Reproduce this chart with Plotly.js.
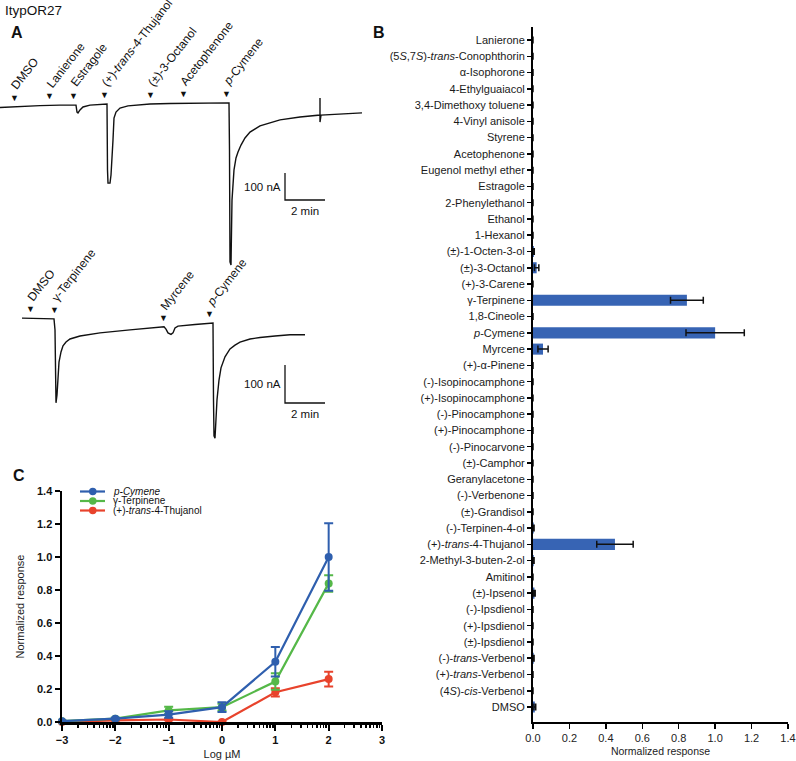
<!DOCTYPE html>
<html><head><meta charset="utf-8">
<script src="https://cdn.plot.ly/plotly-3.0.1.min.js"></script>
<style>body{margin:0;background:#fff}#chart{width:796px;height:761px}</style>
</head><body><div id="chart"></div>
<script>
// ---------- Panel A: two-electrode voltage clamp traces (time in min, current in nA) ----------
const topTime = [0,1.0,2.0,3.0,3.75,3.8,3.85,3.9,4.0,4.15,4.5,5.2,5.35,5.375,5.4,5.5,5.55,5.65,5.7,5.8,6.0,6.4,7.0,7.5,8.5,10.0,11.45,11.475,11.5,11.55,11.6,11.7,11.8,11.9,12.05,12.25,12.5,13.0,13.5,14.0,15.0,15.9,16.0,16.0,16.0,16.05,16.5,17.25,18.1];
const topCurrent = [-13,-9,-6,-4,-2,-4,-30,-33,-22,-11,-4,0,0,-244,-293,-293,-263,-133,-52,-30,-15,-7,-2,0,2,4,4,-170,-585,-596,-356,-244,-200,-178,-152,-126,-104,-81,-69,-59,-48,-43,-41,22,-67,-41,-39,-37,-33];
const bottomTime = [1.1,2.0,2.7,2.75,2.775,2.8,2.85,2.9,2.95,3.05,3.15,3.3,3.5,4.0,5.0,6.5,8.0,8.2,8.3,8.4,8.55,8.65,8.75,8.9,9.75,10.6,10.65,10.675,10.7,10.75,10.8,10.85,10.95,11.05,11.25,11.5,11.75,12.0,12.5,13.0,13.75,14.5,15.25];
const bottomCurrent = [5,4,3,-26,-210,-218,-197,-145,-111,-84,-68,-58,-50,-42,-34,-26,-20,-18,-24,-34,-38,-34,-21,-16,-12,-8,-8,-210,-305,-311,-263,-210,-158,-126,-97,-76,-66,-58,-50,-46,-42,-39,-39];
const topStimuli = ['DMSO','Lanierone','Estragole','(+)-<i>trans</i>-4-Thujanol','(±)-3-Octanol','Acetophenone','<i>p</i>-Cymene'];
const topStimTimes = [0.7,2.45,3.65,5.2,7.5,9.15,11.3];
const bottomStimuli = ['DMSO','γ-Terpinene','Myrcene','<i>p</i>-Cymene'];
const bottomStimTimes = [1.5,2.7,8.15,10.45];
const scaleCurrent = 100; // nA
const scaleTime = 2;      // min

// ---------- Panel B: normalized responses ----------
const compounds = ['Lanierone','(5<i>S</i>,7<i>S</i>)-<i>trans</i>-Conophthorin','α-Isophorone','4-Ethylguaiacol','3,4-Dimethoxy toluene','4-Vinyl anisole','Styrene','Acetophenone','Eugenol methyl ether','Estragole','2-Phenylethanol','Ethanol','1-Hexanol','(±)-1-Octen-3-ol','(±)-3-Octanol','(+)-3-Carene','γ-Terpinene','1,8-Cineole','<i>p</i>-Cymene','Myrcene','(+)-α-Pinene','(-)-Isopinocamphone','(+)-Isopinocamphone','(-)-Pinocamphone','(+)-Pinocamphone','(-)-Pinocarvone','(±)-Camphor','Geranylacetone','(-)-Verbenone','(±)-Grandisol','(-)-Terpinen-4-ol','(+)-<i>trans</i>-4-Thujanol','2-Methyl-3-buten-2-ol','Amitinol','(±)-Ipsenol','(-)-Ipsdienol','(+)-Ipsdienol','(±)-Ipsdienol','(-)-<i>trans</i>-Verbenol','(+)-<i>trans</i>-Verbenol','(4<i>S</i>)-<i>cis</i>-Verbenol','DMSO'];
const meanResponse = [0,0,0,0,0,0,0,0,0,0,0,0,0,0.005,0.02,0,0.845,0,1.0,0.055,0,0,0,0,0,0,0,0,0,0,0.004,0.45,0.004,0,0.008,0,0,0,0.004,0,0,0.01];
const semResponse  = [0,0,0,0,0,0,0,0,0,0,0,0,0,0.002,0.012,0,0.09,0,0.16,0.028,0,0,0,0,0,0,0,0,0,0,0.002,0.10,0.002,0,0.004,0,0,0,0.002,0,0,0.005];

// ---------- Panel C: dose response ----------
const logConc = [-3,-2,-1,0,1,2];
const seriesNames = ['<i>p-Cymene</i>','γ-Terpinene','(+)-<i>trans</i>-4-Thujanol'];
const pCymeneMean = [0.005,0.02,0.045,0.09,0.365,1.0];
const pCymeneSem  = [0.004,0.005,0.02,0.03,0.09,0.205];
const gTerpMean   = [0.005,0.02,0.07,0.09,0.245,0.84];
const gTerpSem    = [0.003,0.005,0.022,0.02,0.05,0.05];
const thujMean    = [0.0,0.01,0.015,0.0,0.18,0.26];
const thujSem     = [0.002,0.003,0.005,0.002,0.025,0.045];
const seriesColors = ['#2f5fae','#55b848','#e8432c'];

// ---------- helpers ----------
const W = 796, H = 761;
const px = v => v / W;
const py = v => 1 - v / H;
const FONT = "Arial, 'Liberation Sans', sans-serif";
function interp(ts, vs, t) {
  for (let i = 1; i < ts.length; i++) {
    if (ts[i] >= t) {
      const f = (t - ts[i-1]) / ((ts[i] - ts[i-1]) || 1);
      return vs[i-1] + f * (vs[i] - vs[i-1]);
    }
  }
  return vs[vs.length-1];
}

const traces = [];
const annotations = [];
const shapes = [];

// Panel A traces
traces.push({x: topTime, y: topCurrent, xaxis:'x', yaxis:'y', mode:'lines', line:{color:'#111', width:1.4}, hoverinfo:'skip'});
traces.push({x: bottomTime, y: bottomCurrent, xaxis:'x2', yaxis:'y2', mode:'lines', line:{color:'#111', width:1.4}, hoverinfo:'skip'});

// scale bars
const sbT = 14.25;
const sbTopI = -355.6, sbBotI = -218.4;
[[sbTopI,'x','y'],[sbBotI,'x2','y2']].forEach(([base, xa, ya]) => {
  traces.push({x:[sbT, sbT, sbT + scaleTime], y:[base + scaleCurrent, base, base], xaxis:xa, yaxis:ya, mode:'lines', line:{color:'#111', width:1.3}, hoverinfo:'skip'});
  annotations.push({x:sbT, y:base + scaleCurrent/2, xref:xa, yref:ya, text: scaleCurrent + ' nA', showarrow:false, xanchor:'right', yanchor:'middle', xshift:-2, font:{family:FONT, size:11.5, color:'#111'}});
  annotations.push({x:sbT + scaleTime/2, y:base, xref:xa, yref:ya, text: scaleTime + ' min', showarrow:false, xanchor:'center', yanchor:'top', yshift:-3, font:{family:FONT, size:11.5, color:'#111'}});
});

// stimulus arrows and labels
function addStim(names, times, ts, vs, xa, ya) {
  names.forEach((nm, i) => {
    const t = times[i];
    const yv = interp(ts, vs, t);
    annotations.push({x:t, y:yv, xref:xa, yref:ya, text:'▼', showarrow:false, xanchor:'center', yanchor:'middle', yshift:9, font:{family:FONT, size:9, color:'#111'}});
    annotations.push({x:t, y:yv, xref:xa, yref:ya, text:nm, showarrow:false, textangle:-52, xanchor:'left', yanchor:'bottom', xshift:-8, yshift:12, font:{family:FONT, size:12, color:'#111'}});
  });
}
addStim(topStimuli, topStimTimes, topTime, topCurrent, 'x', 'y');
addStim(bottomStimuli, bottomStimTimes, bottomTime, bottomCurrent, 'x2', 'y2');

// Panel B bars
traces.push({type:'bar', orientation:'h', x: meanResponse, y: compounds, xaxis:'x3', yaxis:'y3', width:0.68,
  marker:{color:'#3764b4', line:{width:0}},
  error_x:{type:'data', array: semResponse, color:'#111', thickness:1.5, width:3.5}, hoverinfo:'skip'});

// Panel C lines (drawn red, green, blue so blue is on top)
const cMeans = [pCymeneMean, gTerpMean, thujMean];
const cSems = [pCymeneSem, gTerpSem, thujSem];
[2,1,0].forEach(k => {
  traces.push({x: logConc, y: cMeans[k], xaxis:'x4', yaxis:'y4', mode:'lines+markers', cliponaxis:false,
    line:{color:seriesColors[k], width:2.2}, marker:{color:seriesColors[k], size:8},
    error_y:{type:'data', array:cSems[k], color:seriesColors[k], thickness:2, width:4.5}, hoverinfo:'skip'});
});

// manual legend for panel C
const legY = [491.5, 501, 510.5];
seriesNames.forEach((nm, k) => {
  shapes.push({type:'line', xref:'paper', yref:'paper', x0:px(80), x1:px(105), y0:py(legY[k]), y1:py(legY[k]), line:{color:seriesColors[k], width:2.2}});
  shapes.push({type:'circle', xref:'paper', yref:'paper', x0:px(89), x1:px(96.5), y0:py(legY[k]+3.75), y1:py(legY[k]-3.75), fillcolor:seriesColors[k], line:{width:0}});
  annotations.push({x:px(112), y:py(legY[k]), xref:'paper', yref:'paper', text:nm, showarrow:false, xanchor:'left', yanchor:'middle', borderpad:0, font:{family:FONT, size:10, color:'#111'}});
});

// minor ticks for log concentration axis
const minorTicks = [];
for (let d = -3; d < 3; d++) for (let m = 2; m <= 9; m++) minorTicks.push(d + Math.log10(m));

// Panel labels
[['ItypOR27', 3, 11, 13.5, 'normal', 'left'], ['A', 17, 32, 16, 'bold', 'center'], ['B', 379, 32, 16, 'bold', 'center'], ['C', 19, 476, 16, 'bold', 'center']].forEach(([t, x, y, s, w, a]) => {
  annotations.push({x:px(x), y:py(y), xref:'paper', yref:'paper', text:t, showarrow:false, xanchor:a, yanchor:'middle', font:{family:FONT, size:s, weight:w, color:'#111'}});
});

const hiddenAx = {showgrid:false, zeroline:false, showticklabels:false, ticks:'', showline:false, fixedrange:true};
const layout = {
  width: W, height: H, margin:{l:0, r:0, t:0, b:0},
  paper_bgcolor:'#fff', plot_bgcolor:'rgba(0,0,0,0)', showlegend:false,
  font:{family:FONT, color:'#111'},
  xaxis: Object.assign({domain:[0, px(370)], range:[0, 18.5], anchor:'y'}, hiddenAx),
  yaxis: Object.assign({domain:[py(280), 1], range:[-651.9, 385.2], anchor:'x'}, hiddenAx),
  xaxis2: Object.assign({domain:[0, px(370)], range:[0, 18.5], anchor:'y2'}, hiddenAx),
  yaxis2: Object.assign({domain:[py(460), py(230)], range:[-368.4, 236.8], anchor:'x2'}, hiddenAx),
  xaxis3: {domain:[px(533), px(788)], range:[0, 1.4], anchor:'y3', dtick:0.2, tickformat:'.1f',
    showline:true, linecolor:'#000', linewidth:2, ticks:'outside', ticklen:5, tickwidth:1.5, tickcolor:'#000',
    showgrid:false, zeroline:false, automargin:false, tickfont:{size:11, color:'#222'},
    title:{text:'Normalized response', font:{size:10.5, color:'#222'}, standoff:4}},
  yaxis3: {domain:[py(722), py(27)], range:[41.92, -0.8], anchor:'x3', type:'category',
    showline:true, linecolor:'#000', linewidth:2, ticks:'outside', ticklen:4, tickwidth:1.5, tickcolor:'#000',
    showgrid:false, zeroline:false, automargin:false, tickfont:{size:11, color:'#1a1a1a'}},
  xaxis4: {domain:[px(62), px(382)], range:[-3, 3], anchor:'y4', dtick:1,
    showline:true, linecolor:'#000', linewidth:2.5, ticks:'outside', ticklen:6, tickwidth:2, tickcolor:'#000',
    minor:{tickmode:'array', tickvals:minorTicks, ticks:'outside', ticklen:3, tickwidth:1.5, tickcolor:'#000'},
    showgrid:false, zeroline:false, automargin:false, tickfont:{size:11, weight:'bold', color:'#111'},
    title:{text:'Log µM', font:{size:11, color:'#222'}, standoff:6}},
  yaxis4: {domain:[py(722), py(491)], range:[0, 1.4], anchor:'x4', dtick:0.2, tickformat:'.1f',
    showline:true, linecolor:'#000', linewidth:2.5, ticks:'outside', ticklen:5, tickwidth:2, tickcolor:'#000',
    showgrid:false, zeroline:false, automargin:false, tickfont:{size:11, weight:'bold', color:'#111'},
    title:{text:'Normalized response', font:{size:11, color:'#222'}, standoff:10}},
  annotations: annotations, shapes: shapes
};
Plotly.newPlot('chart', traces, layout, {staticPlot:true, displayModeBar:false});
</script></body></html>
